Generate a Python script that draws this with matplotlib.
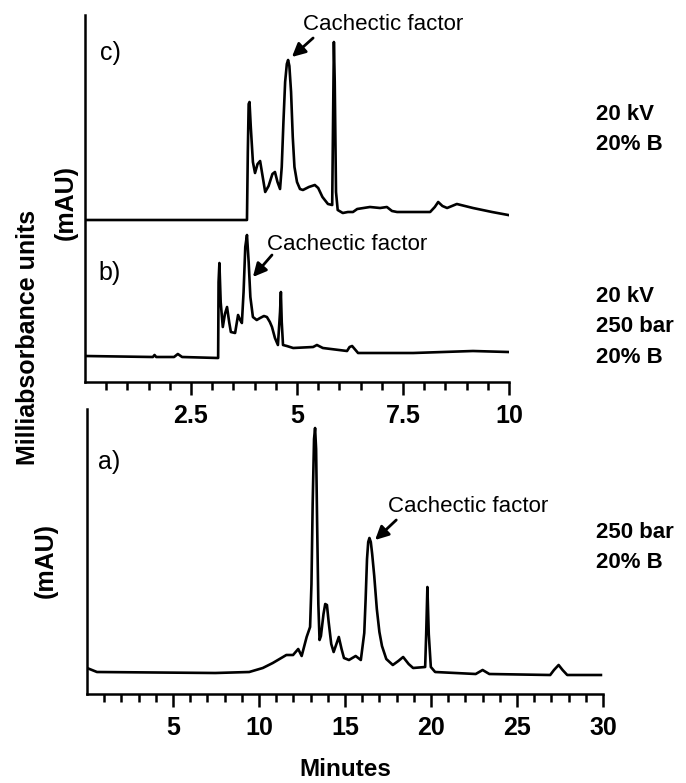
import matplotlib
matplotlib.use('Agg')
import matplotlib.pyplot as plt
import numpy as np

plt.rcParams['font.family'] = ['Liberation Sans', 'DejaVu Sans']

# c) 20 kV, 20% B  (minutes, signal)
c_min = [0.0, 3.82, 3.84, 3.86, 3.88, 3.91, 3.96, 4.01, 4.07, 4.13, 4.18, 4.25, 4.33,
         4.42, 4.48, 4.54, 4.60, 4.64, 4.68, 4.72, 4.76, 4.79, 4.82, 4.86, 4.90, 4.94,
         5.00, 5.07, 5.14, 5.28, 5.42, 5.50, 5.60, 5.73, 5.83, 5.86, 5.87, 5.89, 5.92,
         5.96, 6.08, 6.20, 6.32, 6.42, 6.72, 6.96, 7.12, 7.24, 7.36, 8.14, 8.25, 8.33,
         8.43, 8.54, 8.77, 9.15, 9.60, 9.98]
c_sig = [162, 162, 230, 278, 280, 255, 220, 209, 218, 221, 208, 190, 196,
         208, 210, 200, 193, 215, 260, 300, 318, 322, 316, 290, 245, 215,
         200, 193, 192, 195, 197, 194, 185, 178, 177, 300, 340, 300, 190,
         172, 169, 170, 170, 173, 175, 174, 175, 171, 170, 170, 175, 180,
         176, 174, 178, 174, 170, 167]

# b) 20 kV, 250 bar, 20% B
b_min = [0.0, 1.60, 1.64, 1.68, 2.10, 2.19, 2.29, 3.14, 3.15, 3.17, 3.20, 3.25, 3.30,
         3.35, 3.40, 3.44, 3.54, 3.61, 3.66, 3.70, 3.74, 3.78, 3.82, 3.86, 3.90, 3.96,
         4.05, 4.13, 4.22, 4.29, 4.36, 4.41, 4.48, 4.55, 4.60, 4.62, 4.64, 4.67, 4.76,
         4.91, 5.38, 5.47, 5.61, 6.18, 6.24, 6.30, 6.36, 6.44, 7.74, 9.15, 9.98]
b_sig = [26, 25, 27, 25, 25, 28, 25, 24, 100, 119, 80, 55, 68,
         75, 60, 50, 49, 67, 62, 59, 90, 135, 147, 120, 85, 65,
         62, 64, 66, 65, 60, 55, 44, 37, 70, 90, 60, 37, 36,
         34, 35, 37, 34, 31, 35, 36, 33, 29, 29, 31, 30]

# a) 250 bar, 20% B
a_min = [0.0, 0.58, 7.46, 9.43, 10.22, 10.80, 11.59, 11.98, 12.28, 12.48, 12.77, 12.97,
         13.05, 13.12, 13.20, 13.26, 13.32, 13.38, 13.45, 13.52, 13.60, 13.75, 13.85,
         13.95, 14.05, 14.20, 14.34, 14.50, 14.64, 14.80, 14.94, 15.23, 15.62, 15.92,
         16.12, 16.20, 16.28, 16.35, 16.42, 16.50, 16.58, 16.70, 16.85, 17.00, 17.15,
         17.40, 17.78, 18.10, 18.38, 18.70, 18.96, 19.66, 19.72, 19.79, 19.87, 19.99,
         20.24, 22.60, 23.00, 23.39, 26.93, 27.15, 27.42, 27.65, 27.92, 29.88]
a_sig = [26, 22, 21, 22, 26, 31, 39, 39, 45, 38, 57, 67,
         110, 190, 255, 266, 245, 170, 90, 54, 58, 80, 90,
         89, 72, 50, 42, 50, 57, 45, 36, 34, 38, 34,
         61, 95, 135, 152, 156, 152, 140, 118, 85, 62, 48,
         35, 29, 33, 37, 30, 26, 27, 60, 107, 60, 27,
         22, 20, 24, 20, 19, 24, 29, 24, 19, 19]

top_major = [2.5, 5, 7.5, 10]
top_labels = ['2.5', '5', '7.5', '10']
bot_major = [5, 10, 15, 20, 25, 30]
bot_labels = ['5', '10', '15', '20', '25', '30']

W, H = 686, 783
fig = plt.figure(figsize=(W / 100, H / 100), dpi=100)

ax_top = fig.add_axes([85 / W, 1 - 382 / H, 424 / W, 367 / H])
ax_bot = fig.add_axes([87 / W, 1 - 694 / H, 516 / W, 285 / H])
ax_top.set_zorder(3)
ax_top.patch.set_visible(False)
ax_bot.patch.set_visible(False)

for ax in (ax_top, ax_bot):
    for s in ('top', 'right'):
        ax.spines[s].set_visible(False)
    for s in ('left', 'bottom'):
        ax.spines[s].set_linewidth(1.8)
    ax.set_yticks([])
    ax.tick_params(axis='x', which='major', direction='out', length=9.5, width=1.8,
                   labelsize=18, pad=6)
    ax.tick_params(axis='x', which='minor', direction='out', length=6, width=1.8)

ax_top.plot(c_min, c_sig, color='black', lw=1.9, solid_joinstyle='round')
ax_top.plot(b_min, b_sig, color='black', lw=1.9, solid_joinstyle='round')
ax_top.set_xlim(0, 10)
ax_top.set_ylim(0, 367)
ax_top.set_xticks(top_major)
ax_top.set_xticklabels(top_labels, fontweight='bold')
ax_top.set_xticks([m for m in np.arange(0.5, 10, 0.5) if m not in top_major], minor=True)

ax_bot.plot(a_min, a_sig, color='black', lw=1.9, solid_joinstyle='round')
ax_bot.set_xlim(0, 30)
ax_bot.set_ylim(0, 285)
ax_bot.set_xticks(bot_major)
ax_bot.set_xticklabels(bot_labels, fontweight='bold')
ax_bot.set_xticks([m for m in range(1, 30) if m not in bot_major], minor=True)

# panel labels
ax_top.text(0.35, 329, 'c)', fontsize=18, va='center')
ax_top.text(0.31, 109, 'b)', fontsize=18, va='center')
ax_bot.text(0.64, 232, 'a)', fontsize=18, va='center')

# cachectic factor annotations
arrow = dict(arrowstyle='-|>', color='black', lw=2, mutation_scale=20,
             shrinkA=0, shrinkB=0)
ax_top.text(5.14, 357, 'Cachectic factor', fontsize=16, va='center')
ax_top.annotate('', xy=(4.88, 325), xytext=(5.38, 344), arrowprops=arrow)
ax_top.text(4.29, 137, 'Cachectic factor', fontsize=16, va='center')
ax_top.annotate('', xy=(3.96, 105), xytext=(4.41, 127), arrowprops=arrow)
ax_bot.text(17.5, 187, 'Cachectic factor', fontsize=16, va='center')
ax_bot.annotate('', xy=(16.75, 154), xytext=(17.98, 174), arrowprops=arrow)

# conditions on the right
cond = [(['20 kV', '20% B'], 115), (['20 kV', '250 bar', '20% B'], 297),
        (['250 bar', '20% B'], 532)]
for lines, y0 in cond:
    for i, t in enumerate(lines):
        fig.text(596 / W, 1 - (y0 + i * 30) / H, t, fontsize=16, fontweight='bold',
                 va='center', ha='left')

# axis titles
fig.text(28 / W, 1 - 337 / H, 'Milliabsorbance units', rotation=90, fontsize=18,
         fontweight='bold', ha='center', va='center')
fig.text(66 / W, 1 - 203 / H, '(mAU)', rotation=90, fontsize=18,
         fontweight='bold', ha='center', va='center')
fig.text(46 / W, 1 - 560 / H, '(mAU)', rotation=90, fontsize=18,
         fontweight='bold', ha='center', va='center')
fig.text(345 / W, 1 - 769 / H, 'Minutes', fontsize=17.5, fontweight='bold',
         ha='center', va='center')

fig.savefig('out.png', dpi=100)
